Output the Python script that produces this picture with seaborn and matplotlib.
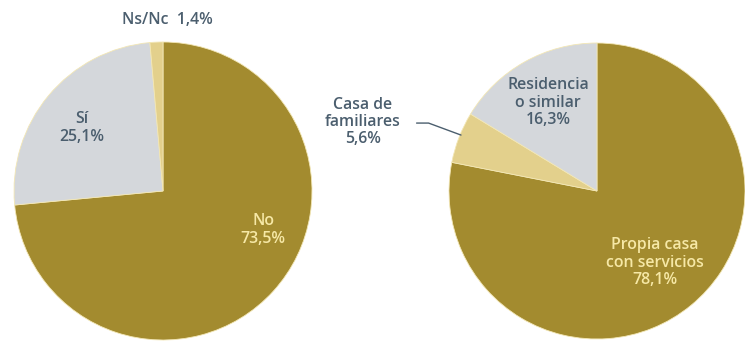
import matplotlib
matplotlib.use("Agg")
import matplotlib.pyplot as plt
import seaborn as sns

# ---- data ----
left_labels = ["No", "Sí", "Ns/Nc"]
left_values = [73.5, 25.1, 1.4]
right_labels = ["Propia casa\ncon servicios", "Casa de\nfamiliares", "Residencia\no similar"]
right_values = [78.1, 5.6, 16.3]

# ---- style ----
sns.set_style("white")
plt.rcParams["font.family"] = ["Open Sans", "DejaVu Sans"]
olive, tan, grey = "#A38B2F", "#E3D08C", "#D4D7DB"
label_col = "#4B5E6E"
light_txt = "#F6E8A6"
palette_left = sns.color_palette([olive, grey, tan])
palette_right = sns.color_palette([olive, tan, grey])

fig = plt.figure(figsize=(7.45, 3.42), dpi=100)
W, H = 745, 342


def make_ax(cx, cy, r):
    ax = fig.add_axes([(cx - r) / W, (H - cy - r) / H, 2 * r / W, 2 * r / H])
    ax.axis("off")
    return ax


def fix(ax):
    ax.set_xlim(-1, 1)
    ax.set_ylim(-1, 1)
    ax.set_aspect("equal")


def fmt(v):
    return f"{v:.1f}".replace(".", ",") + "%"


wp = dict(edgecolor="#F3E7B5", linewidth=0.6)
fs = 11.4
fw = "semibold"
ls = 1.12

# left pie
ax1 = make_ax(163, 191, 149)
ax1.pie(left_values, colors=palette_left, startangle=90, counterclock=False,
        radius=1, wedgeprops=wp)
fix(ax1)
ax1.text(0.672, -0.262, f"{left_labels[0]}\n{fmt(left_values[0])}", color=light_txt,
         ha="center", va="center", fontsize=fs, linespacing=ls, fontweight=fw)
ax1.text(-0.544, 0.423, f"{left_labels[1]}\n{fmt(left_values[1])}", color=label_col,
         ha="center", va="center", fontsize=fs, linespacing=ls, fontweight=fw)
ax1.text(0.03, 1.148, f"{left_labels[2]}  {fmt(left_values[2])}", color=label_col,
         ha="center", va="center", fontsize=fs, clip_on=False, fontweight=fw)

# right pie
ax2 = make_ax(597, 191, 148)
ax2.pie(right_values, colors=palette_right, startangle=90, counterclock=False,
        radius=1, wedgeprops=wp)
fix(ax2)
ax2.text(0.392, -0.486, f"{right_labels[0]}\n{fmt(right_values[0])}", color=light_txt,
         ha="center", va="center", fontsize=fs, linespacing=ls, fontweight=fw)
ax2.text(-1.581, 0.466, f"{right_labels[1]}\n{fmt(right_values[1])}", color=label_col,
         ha="center", va="center", fontsize=fs, linespacing=ls, clip_on=False,
         fontweight=fw)
ax2.text(-0.331, 0.595, f"{right_labels[2]}\n{fmt(right_values[2])}", color=label_col,
         ha="center", va="center", fontsize=fs, linespacing=ls, fontweight=fw)
ax2.plot([-1.219, -1.138, -0.919], [0.459, 0.459, 0.378], color=label_col, lw=1.0,
         clip_on=False)

fig.savefig("out.png", dpi=100, facecolor="white")
